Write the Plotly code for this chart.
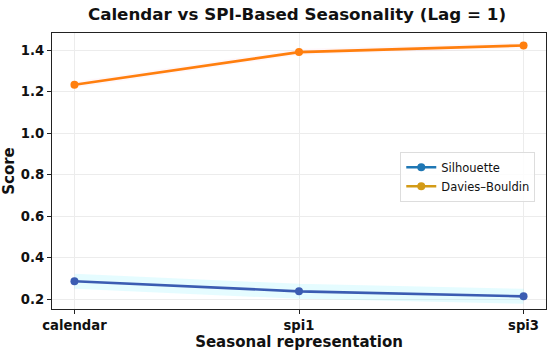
import plotly.graph_objects as go

categories = ["calendar", "spi1", "spi3"]
silhouette = [0.286, 0.237, 0.213]
davies_bouldin = [1.233, 1.390, 1.422]
y_ticks = [0.2, 0.4, 0.6, 0.8, 1.0, 1.2, 1.4]

xi = list(range(len(categories)))
fig = go.Figure()

# soft highlight band under silhouette line
fig.add_trace(go.Scatter(x=xi, y=silhouette, mode="lines",
                         line=dict(color="rgba(0,230,255,0.10)", width=15),
                         showlegend=False, hoverinfo="skip"))
fig.add_trace(go.Scatter(x=xi, y=davies_bouldin, mode="lines",
                         line=dict(color="rgba(255,100,160,0.05)", width=6),
                         showlegend=False, hoverinfo="skip"))

fig.add_trace(go.Scatter(x=xi, y=silhouette, mode="lines+markers",
                         line=dict(color="#3b5cb2", width=2.6),
                         marker=dict(color="#3b5cb2", size=8),
                         showlegend=False))
fig.add_trace(go.Scatter(x=xi, y=davies_bouldin, mode="lines+markers",
                         line=dict(color="#ff7f0e", width=2.6),
                         marker=dict(color="#ff7f0e", size=8),
                         showlegend=False))

# legend entries
fig.add_trace(go.Scatter(x=[None], y=[None], mode="lines+markers", name="Silhouette",
                         line=dict(color="#1f77b4", width=2.6),
                         marker=dict(color="#1f77b4", size=8)))
fig.add_trace(go.Scatter(x=[None], y=[None], mode="lines+markers", name="Davies–Bouldin",
                         line=dict(color="#d39b17", width=2.6),
                         marker=dict(color="#d39b17", size=8)))

axis_common = dict(showline=True, linecolor="#222", linewidth=1.3, mirror=True,
                   ticks="outside", ticklen=4, tickcolor="#222",
                   showgrid=True, gridcolor="#ececec", gridwidth=1, zeroline=False,
                   automargin=True,
                   tickfont=dict(family="DejaVu Sans", size=13.2, color="#111",
                                 weight="bold"))

fig.update_layout(
    width=550, height=351,
    margin=dict(l=52, r=4, t=33, b=42),
    paper_bgcolor="white", plot_bgcolor="white",
    title=dict(text="<b>Calendar vs SPI-Based Seasonality (Lag = 1)</b>",
               x=0.54, xanchor="center", y=0.96, yanchor="middle",
               font=dict(family="DejaVu Sans", size=16.7, color="#111")),
    xaxis=dict(range=[-0.1, 2.1], tickvals=xi, ticktext=categories,
               title=dict(text="<b>Seasonal representation</b>", standoff=2,
                          font=dict(family="DejaVu Sans", size=15, color="#111")),
               **axis_common),
    yaxis=dict(range=[0.152, 1.482], tickvals=y_ticks,
               ticktext=[f"{v:.1f}" for v in y_ticks],
               title=dict(text="<b>Score</b>", standoff=6,
                          font=dict(family="DejaVu Sans", size=15, color="#111")),
               **axis_common),
    legend=dict(x=0.705, y=0.57, xanchor="left", yanchor="top",
                bgcolor="rgba(255,255,255,0.85)", bordercolor="#dddddd", borderwidth=1,
                font=dict(family="DejaVu Sans", size=11.5, color="#111"),
                tracegroupgap=0, itemwidth=30),
)

fig.write_html("out.html", config={"displayModeBar": False},
               post_script="document.body.style.margin='0px';")
